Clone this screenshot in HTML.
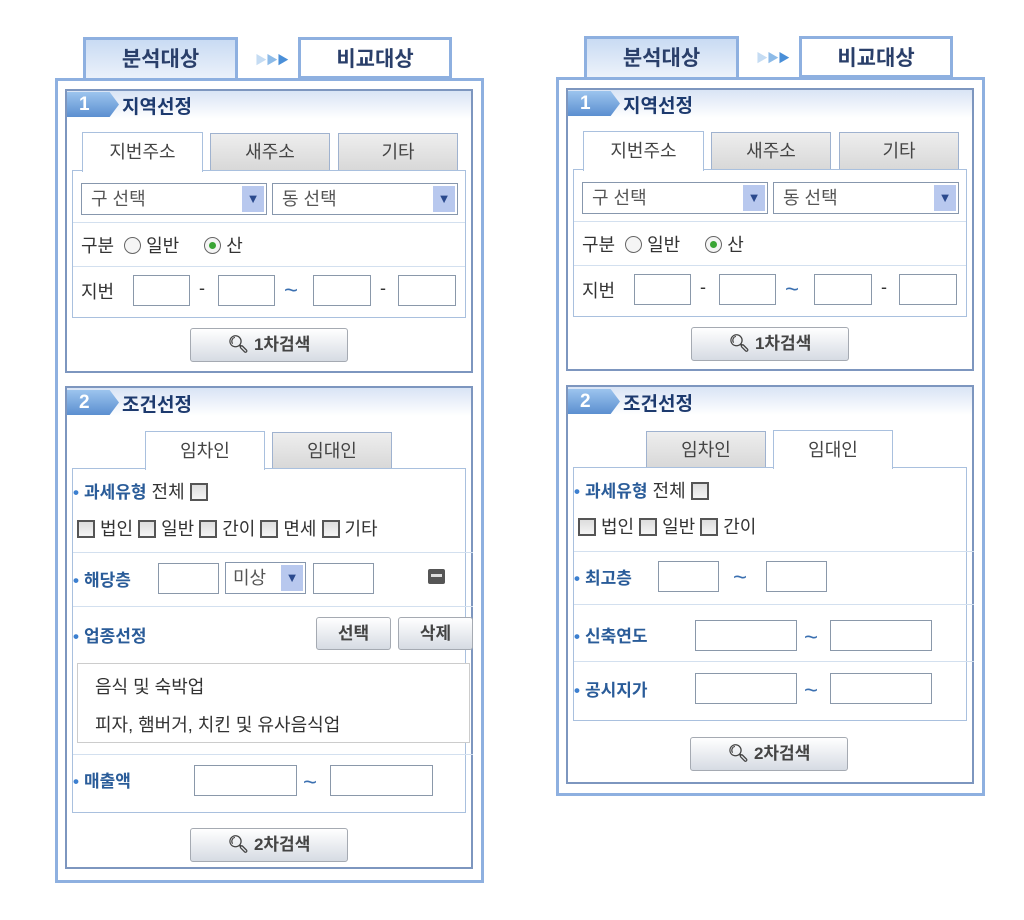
<!DOCTYPE html>
<html><head><meta charset="utf-8"><style>
*{margin:0;padding:0;box-sizing:border-box}
body{width:1024px;height:920px;background:#fff;position:relative;overflow:hidden;font-family:"Liberation Sans","Noto Sans CJK KR","NanumGothic",sans-serif;color:#333}
.p{position:absolute;top:0;width:430px;height:920px}
.a{position:absolute}
.frame{border:3px solid #8eb0e0;background:#fff}
.box{border:2px solid #7d96bf;background:#fff}
.hdr{background:linear-gradient(#d9e4f5,#fff)}
.inner{border:1px solid #a9c0de;background:#fff}
.tab{border:1px solid #9fb2cf;border-bottom:none;font-size:18px;text-align:center;color:#444}
.tab.on{background:#fff;border-color:#a9c0de}
.tab.off{background:linear-gradient(#eee,#d8d8d8)}
.top{border:3px solid #8eb0e0;border-bottom:none;font-size:21px;font-weight:bold;color:#2a3f6a;text-align:center}
.badge{height:25px;background:linear-gradient(#9cc4ee,#5b8fd0);color:#fff;font-weight:bold;font-size:19px;padding-left:12px;line-height:25px;clip-path:polygon(0 0,82% 0,100% 50%,82% 100%,0 100%)}
.ttl{font-size:19px;font-weight:bold;color:#1d3a6e}
.sel{border:1px solid #8797ad;height:32px;font-size:18px;color:#555;line-height:30px;padding-left:9px;background:#fff}
.sel i{position:absolute;right:2px;top:2px;width:22px;height:26px;background:#b8c8ee;font-style:normal;color:#2b4a8e;font-size:13px;text-align:center;line-height:26px}
.in{border:1px solid #8a98aa;background:#fff;height:31px}
.t{font-size:18px;color:#333;white-space:nowrap}
.lb{font-size:17px;font-weight:bold;color:#2a5c99;white-space:nowrap}
.lb:before{content:"•";color:#3b7fd0;margin-right:5px}
.hr{height:1px;background:#d3e0ef}
.cb{width:18px;height:18px;border:2px solid #555;background:linear-gradient(#ddd,#f4f4f4);display:inline-block;vertical-align:-3px}
.btn{border:1px solid #a5aab2;border-radius:3px;background:linear-gradient(#fff,#d6dbe3);font-size:17px;font-weight:bold;color:#444;text-align:center}
.rad{width:17px;height:17px;border:1.5px solid #666;border-radius:50%;display:inline-block;vertical-align:-2px;position:relative;background:#f5f5f5}
.rad.on:after{content:"";position:absolute;left:3.5px;top:3.5px;width:7px;height:7px;border-radius:50%;background:#3aa535}
.tl{font-size:24px;color:#3a6fb0;line-height:1}
.arr{font-size:12px;color:#4a8fd8;letter-spacing:-1px}
</style></head><body>

<!-- LEFT -->
<div class="p" style="left:55px">
  <div class="a top" style="left:28px;top:37px;width:155px;height:44px;line-height:40px;background:linear-gradient(#c9dbf3,#eef3fb)">분석대상</div>
  <div class="a arr" style="left:200px;top:51px"><span style="color:#c5dcf3">▶</span><span style="color:#8dbbe8">▶</span><span>▶</span></div>
  <div class="a top" style="left:243px;top:37px;width:154px;height:42px;line-height:40px;border-bottom:3px solid #8eb0e0">비교대상</div>
  <div class="a frame" style="left:0;top:78px;width:429px;height:805px"></div>

  <div class="a box" style="left:10px;top:89px;width:408px;height:284px"></div>
  <div class="a hdr" style="left:12px;top:91px;width:404px;height:28px"></div>
  <div class="a badge" style="left:12px;top:92px;width:52px">1</div>
  <div class="a ttl" style="left:67px;top:92px">지역선정</div>
  <div class="a inner" style="left:17px;top:170px;width:394px;height:148px"></div>
  <div class="a tab on" style="left:27px;top:132px;width:121px;height:40px;line-height:38px">지번주소</div>
  <div class="a tab off" style="left:155px;top:133px;width:120px;height:37px;line-height:36px">새주소</div>
  <div class="a tab off" style="left:283px;top:133px;width:120px;height:37px;line-height:36px">기타</div>
  <div class="a sel" style="left:26px;top:183px;width:186px">구 선택<i>▼</i></div>
  <div class="a sel" style="left:217px;top:183px;width:186px">동 선택<i>▼</i></div>
  <div class="a hr" style="left:18px;top:222px;width:392px"></div>
  <div class="a t" style="left:26px;top:232px">구분 &nbsp;<span class="rad"></span> 일반 &nbsp;&nbsp;&nbsp;&nbsp;<span class="rad on"></span> 산</div>
  <div class="a hr" style="left:18px;top:266px;width:392px"></div>
  <div class="a t" style="left:26px;top:278px">지번</div>
  <div class="a in" style="left:78px;top:275px;width:57px"></div>
  <div class="a t" style="left:144px;top:278px">-</div>
  <div class="a in" style="left:163px;top:275px;width:57px"></div>
  <div class="a tl" style="left:229px;top:279px">~</div>
  <div class="a in" style="left:258px;top:275px;width:58px"></div>
  <div class="a t" style="left:325px;top:278px">-</div>
  <div class="a in" style="left:343px;top:275px;width:58px"></div>
  <div class="a btn" style="left:135px;top:328px;width:158px;height:34px;line-height:32px">🔍︎ 1차검색</div>

  <div class="a box" style="left:10px;top:386px;width:408px;height:483px"></div>
  <div class="a hdr" style="left:12px;top:388px;width:404px;height:28px"></div>
  <div class="a badge" style="left:12px;top:390px;width:52px">2</div>
  <div class="a ttl" style="left:67px;top:390px">조건선정</div>
  <div class="a inner" style="left:17px;top:468px;width:394px;height:345px"></div>
  <div class="a tab on" style="left:90px;top:431px;width:120px;height:39px;line-height:38px">임차인</div>
  <div class="a tab off" style="left:217px;top:432px;width:120px;height:36px;line-height:36px">임대인</div>
  <div class="a t" style="left:18px;top:478px"><span class="lb">과세유형</span> 전체 <span class="cb"></span></div>
  <div class="a t" style="left:22px;top:515px"><span class="cb"></span> 법인 <span class="cb"></span> 일반 <span class="cb"></span> 간이 <span class="cb"></span> 면세 <span class="cb"></span> 기타</div>
  <div class="a hr" style="left:18px;top:552px;width:400px"></div>
  <div class="a lb" style="left:18px;top:566px">해당층</div>
  <div class="a in" style="left:103px;top:563px;width:61px"></div>
  <div class="a sel" style="left:170px;top:562px;width:81px;padding-left:7px">미상<i>▼</i></div>
  <div class="a in" style="left:258px;top:563px;width:61px"></div>
  <div class="a" style="left:373px;top:569px;width:17px;height:15px;background:#555;border-radius:2px"><div style="margin:5px 3px;height:3px;background:#ddd"></div></div>
  <div class="a hr" style="left:18px;top:606px;width:400px"></div>
  <div class="a lb" style="left:18px;top:622px">업종선정</div>
  <div class="a btn" style="left:261px;top:617px;width:75px;height:33px;line-height:31px">선택</div>
  <div class="a btn" style="left:343px;top:617px;width:75px;height:33px;line-height:31px">삭제</div>
  <div class="a" style="left:22px;top:663px;width:393px;height:80px;border:1px solid #ccc;background:#fff"></div>
  <div class="a t" style="left:40px;top:673px">음식 및 숙박업</div>
  <div class="a t" style="left:40px;top:711px">피자, 햄버거, 치킨 및 유사음식업</div>
  <div class="a hr" style="left:18px;top:754px;width:400px"></div>
  <div class="a lb" style="left:18px;top:767px">매출액</div>
  <div class="a in" style="left:139px;top:765px;width:103px"></div>
  <div class="a tl" style="left:248px;top:771px">~</div>
  <div class="a in" style="left:275px;top:765px;width:103px"></div>
  <div class="a btn" style="left:135px;top:828px;width:158px;height:34px;line-height:32px">🔍︎ 2차검색</div>
</div>

<!-- RIGHT -->
<div class="p" style="left:556px">
  <div class="a top" style="left:28px;top:36px;width:155px;height:42px;line-height:40px;background:linear-gradient(#c9dbf3,#eef3fb)">분석대상</div>
  <div class="a arr" style="left:200px;top:49px"><span style="color:#c5dcf3">▶</span><span style="color:#8dbbe8">▶</span><span>▶</span></div>
  <div class="a top" style="left:243px;top:36px;width:154px;height:42px;line-height:40px;border-bottom:3px solid #8eb0e0">비교대상</div>
  <div class="a frame" style="left:0;top:77px;width:429px;height:719px"></div>

  <div class="a box" style="left:10px;top:88px;width:408px;height:283px"></div>
  <div class="a hdr" style="left:12px;top:90px;width:404px;height:28px"></div>
  <div class="a badge" style="left:12px;top:91px;width:52px">1</div>
  <div class="a ttl" style="left:67px;top:91px">지역선정</div>
  <div class="a inner" style="left:17px;top:169px;width:394px;height:148px"></div>
  <div class="a tab on" style="left:27px;top:131px;width:121px;height:40px;line-height:38px">지번주소</div>
  <div class="a tab off" style="left:155px;top:132px;width:120px;height:37px;line-height:36px">새주소</div>
  <div class="a tab off" style="left:283px;top:132px;width:120px;height:37px;line-height:36px">기타</div>
  <div class="a sel" style="left:26px;top:182px;width:186px">구 선택<i>▼</i></div>
  <div class="a sel" style="left:217px;top:182px;width:186px">동 선택<i>▼</i></div>
  <div class="a hr" style="left:18px;top:221px;width:392px"></div>
  <div class="a t" style="left:26px;top:231px">구분 &nbsp;<span class="rad"></span> 일반 &nbsp;&nbsp;&nbsp;&nbsp;<span class="rad on"></span> 산</div>
  <div class="a hr" style="left:18px;top:265px;width:392px"></div>
  <div class="a t" style="left:26px;top:277px">지번</div>
  <div class="a in" style="left:78px;top:274px;width:57px"></div>
  <div class="a t" style="left:144px;top:277px">-</div>
  <div class="a in" style="left:163px;top:274px;width:57px"></div>
  <div class="a tl" style="left:229px;top:278px">~</div>
  <div class="a in" style="left:258px;top:274px;width:58px"></div>
  <div class="a t" style="left:325px;top:277px">-</div>
  <div class="a in" style="left:343px;top:274px;width:58px"></div>
  <div class="a btn" style="left:135px;top:327px;width:158px;height:34px;line-height:32px">🔍︎ 1차검색</div>

  <div class="a box" style="left:10px;top:385px;width:408px;height:399px"></div>
  <div class="a hdr" style="left:12px;top:387px;width:404px;height:28px"></div>
  <div class="a badge" style="left:12px;top:389px;width:52px">2</div>
  <div class="a ttl" style="left:67px;top:389px">조건선정</div>
  <div class="a inner" style="left:17px;top:467px;width:394px;height:254px"></div>
  <div class="a tab off" style="left:90px;top:431px;width:120px;height:36px;line-height:36px">임차인</div>
  <div class="a tab on" style="left:217px;top:430px;width:120px;height:39px;line-height:38px">임대인</div>
  <div class="a t" style="left:18px;top:477px"><span class="lb">과세유형</span> 전체 <span class="cb"></span></div>
  <div class="a t" style="left:22px;top:513px"><span class="cb"></span> 법인 <span class="cb"></span> 일반 <span class="cb"></span> 간이</div>
  <div class="a hr" style="left:18px;top:551px;width:400px"></div>
  <div class="a lb" style="left:18px;top:564px">최고층</div>
  <div class="a in" style="left:102px;top:561px;width:61px"></div>
  <div class="a tl" style="left:177px;top:566px">~</div>
  <div class="a in" style="left:210px;top:561px;width:61px"></div>
  <div class="a hr" style="left:18px;top:604px;width:400px"></div>
  <div class="a lb" style="left:18px;top:622px">신축연도</div>
  <div class="a in" style="left:139px;top:620px;width:102px"></div>
  <div class="a tl" style="left:248px;top:626px">~</div>
  <div class="a in" style="left:274px;top:620px;width:102px"></div>
  <div class="a hr" style="left:18px;top:661px;width:400px"></div>
  <div class="a lb" style="left:18px;top:676px">공시지가</div>
  <div class="a in" style="left:139px;top:673px;width:102px"></div>
  <div class="a tl" style="left:248px;top:679px">~</div>
  <div class="a in" style="left:274px;top:673px;width:102px"></div>
  <div class="a btn" style="left:134px;top:737px;width:158px;height:34px;line-height:32px">🔍︎ 2차검색</div>
</div>
</body></html>
